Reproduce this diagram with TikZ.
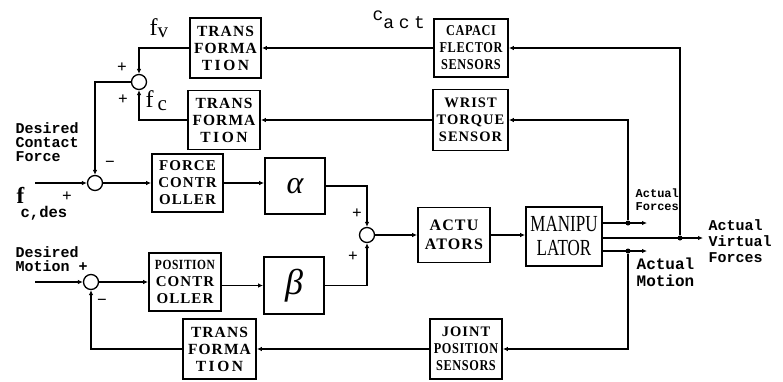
\documentclass[tikz,border=0pt]{standalone}
\usepackage{fontspec}
\setmainfont{Liberation Serif}
\setmonofont{Liberation Mono}
\newfontfamily\boxfont[LetterSpace=7]{Liberation Serif}
\newfontfamily\narrowfont[FakeStretch=0.82, LetterSpace=4]{Liberation Serif}
\newfontfamily\condfont[FakeStretch=0.74]{Liberation Serif}
\newfontfamily\sigfont[LetterSpace=25]{Liberation Mono}
\usetikzlibrary{arrows.meta}
\tikzset{
  every picture/.style={line width=1.3pt},
  block/.style={draw, line width=1.8pt, align=center, inner sep=0pt, font=\boxfont\bfseries\fontsize{15.5}{17}\selectfont},
  sum/.style={draw, circle, line width=1.3pt, minimum size=15pt, inner sep=0pt},
  dot/.style={circle, fill, minimum size=5pt, inner sep=0pt},
  arrow/.style={-{Latex[length=5pt, width=4.5pt]}},
  lbl/.style={font=\ttfamily\bfseries\fontsize{15}{14}\selectfont, align=left, inner sep=0pt, anchor=north west},
  sgn/.style={font=\bfseries\fontsize{17}{17}\selectfont, inner sep=0pt},
  sig/.style={font=\fontsize{24}{24}\selectfont, inner sep=0pt, anchor=base west},
}
\begin{document}
\begin{tikzpicture}[x=1pt, y=-1pt]
  \useasboundingbox (0,0) rectangle (783,381);
  % feedback transformations
  \node[block, minimum width=71pt, minimum height=60pt] (trans1) at (225.5,48) {TRANS\\FORMA\\T\,I\,O\,N};
  \node[block, minimum width=72pt, minimum height=59pt] (trans2) at (224,120) {TRANS\\FORMA\\T\,I\,O\,N};
  \node[block, minimum width=74pt, minimum height=58pt, font=\narrowfont\bfseries\fontsize{15}{17}\selectfont] (capaci) at (471,48) {CAPACI\\FLECTOR\\SENSORS};
  \node[block, minimum width=75pt, minimum height=61pt, font=\boxfont\bfseries\fontsize{14.5}{17}\selectfont] (wrist) at (470.5,120) {WRIST\\TORQUE\\SENSOR};
  \node[sum] (s1) at (139,82) {};
  % force loop
  \node[sum] (s2) at (95,183) {};
  \node[block, minimum width=71pt, minimum height=58pt, font=\boxfont\bfseries\fontsize{15}{17}\selectfont] (force) at (187.5,183) {FORCE\\CONTR\\OLLER};
  \node[block, minimum width=60pt, minimum height=56pt, font=\itshape\fontsize{32}{32}\selectfont] (alpha) at (295,186) {α};
  % position loop
  \node[sum] (s4) at (91,282) {};
  \node[block, minimum width=72pt, minimum height=58pt, font=\boxfont\bfseries\fontsize{15}{17}\selectfont] (pos) at (185,282) {{\narrowfont\bfseries\fontsize{14}{17}\selectfont POSITION}\\CONTR\\OLLER};
  \node[block, minimum width=60pt, minimum height=57pt, font=\itshape\fontsize{36}{36}\selectfont] (beta) at (294,285.5) {β};
  \node[block, minimum width=73pt, minimum height=60pt] (trans3) at (219.5,349) {TRANS\\FORMA\\T\,I\,O\,N};
  \node[block, minimum width=72pt, minimum height=60pt, font=\narrowfont\bfseries\fontsize{15}{17}\selectfont] (joint) at (466,349) {{\boxfont\bfseries\fontsize{14.5}{17}\selectfont JOINT}\\POSITION\\SENSORS};
  % plant
  \node[sum] (s3) at (367,235) {};
  \node[block, minimum width=72pt, minimum height=55pt, font=\boxfont\bfseries\fontsize{16}{19}\selectfont] (actu) at (454,235) {ACTU\\ATORS};
  \node[block, minimum width=76pt, minimum height=59pt, font=\condfont\fontsize{23}{24}\selectfont] (manip) at (564,236.5) {MANIPU\\LATOR};
  \node[dot] (dF) at (628,223) {};
  \node[dot] (dV) at (680,238) {};
  \node[dot] (dM) at (628,251) {};
  \coordinate (oF) at (647,223);
  \coordinate (oV) at (703,238);
  \coordinate (oM) at (647,251);
  \coordinate (fin) at (35,183);
  \coordinate (min) at (35,282);

  % connectors
  \draw[arrow] (trans1.west) -| (s1.north);
  \draw[arrow] (trans2.west) -| (s1.south);
  \draw[arrow] (s1.west) -| (s2.north);
  \draw[arrow] (fin) -- (s2.west);
  \draw[arrow] (s2) -- (force);
  \draw[arrow] (force.east) -- (force.east -| alpha.west);
  \draw[arrow] (alpha.east) -| (s3.north);
  \draw[arrow] (beta.east) -| (s3.south);
  \draw[arrow] (s3) -- (actu);
  \draw[arrow] (actu.east) -- (actu.east -| manip.west);
  \draw[arrow] (manip.east |- dF) -- (oF);
  \draw[arrow] (manip.east |- dV) -- (oV);
  \draw[arrow] (manip.east |- dM) -- (oM);
  \draw[arrow] (dF) |- (wrist.east);
  \draw[arrow] (dV) |- (capaci.east);
  \draw[arrow] (dM) |- (joint.east);
  \draw[arrow] (capaci) -- (trans1);
  \draw[arrow] (wrist) -- (trans2);
  \draw[arrow] (joint) -- (trans3);
  \draw[arrow] (trans3.west) -| (s4.south);
  \draw[arrow] (min) -- (s4.west);
  \draw[arrow] (s4) -- (pos);
  \draw[arrow] (pos.east |- beta.west) -- (beta.west);

  % labels
  \node[lbl] (tdcf) at (15,122) {Desired\\Contact\\Force};
  \node[lbl] (tdm) at (15,246) {Desired\\Motion +};
  \node[lbl, font=\ttfamily\bfseries\fontsize{12}{13}\selectfont] (taf) at (635,188) {Actual\\Forces};
  \node[lbl, font=\ttfamily\bfseries\fontsize{15}{16}\selectfont] (tavf) at (708,219) {Actual\\Virtual\\Forces};
  \node[lbl, font=\ttfamily\bfseries\fontsize{16}{17}\selectfont] (tam) at (636,257) {Actual\\Motion};
  \node[sig] (tfv) at (149,35) {f\raisebox{-2.5pt}{\fontsize{21}{21}\selectfont v}};
  \node[sig] (tfc) at (145,107) {f\,\raisebox{-3pt}{\fontsize{21}{21}\selectfont c}};
  \node[sig, font=\sigfont\fontsize{18}{18}\selectfont] (tcact) at (372,20) {c\raisebox{-8pt}{act}};
  \node[sig, font=\bfseries\fontsize{23}{23}\selectfont] (tf) at (16,203) {f};
  \node[sig, font=\ttfamily\bfseries\fontsize{15.5}{15.5}\selectfont] (tcdes) at (20,217) {c,des};
  \node[sgn] (p1) at (122,68) {+};
  \node[sgn] (p2) at (123,100) {+};
  \node[sgn] (m2) at (110,164) {\textminus};
  \node[sgn] (p3) at (67,197) {+};
  \node[sgn] (p4) at (357,214) {+};
  \node[sgn] (p5) at (353,257) {+};
  \node[sgn] (m4) at (102,302) {\textminus};
\end{tikzpicture}
\end{document}
